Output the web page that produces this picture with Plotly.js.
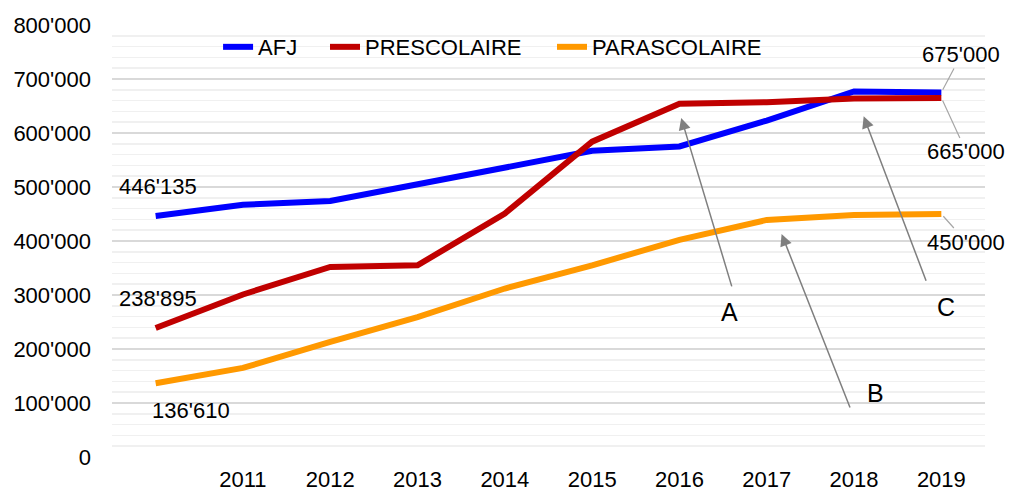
<!DOCTYPE html>
<html>
<head>
<meta charset="utf-8">
<script src="https://cdn.plot.ly/plotly-3.0.1.min.js"></script>
<style>
  body { margin: 0; background: #fff; }
  #chart { width: 1010px; height: 493px; }
</style>
</head>
<body>
<div id="chart"></div>
<script>
// years on the x axis (the first one has no tick label)
var years = [2010, 2011, 2012, 2013, 2014, 2015, 2016, 2017, 2018, 2019];
var yearLabels = ["2011", "2012", "2013", "2014", "2015", "2016", "2017", "2018", "2019"];

var afj = [446135, 467000, 474000, 505000, 538000, 567000, 575000, 623000, 677000, 675000];
var prescolaire = [238895, 301000, 352000, 355000, 451000, 584000, 654000, 657000, 664000, 665000];
var parascolaire = [136610, 165000, 213000, 259000, 312000, 355000, 402000, 439000, 448000, 450000];

var yTicks = [0, 100000, 200000, 300000, 400000, 500000, 600000, 700000, 800000];
var yTickText = ["0", "100'000", "200'000", "300'000", "400'000", "500'000", "600'000", "700'000", "800'000"];

var font = "Liberation Sans, Arial, sans-serif";
var fs = 22;
var grey = "#7f7f7f";

var trace1 = {
  x: years,
  y: afj,
  name: "AFJ",
  type: "scatter",
  mode: "lines",
  legend: "legend",
  line: { color: "#0000ff", width: 6 },
};

var trace2 = {
  x: years,
  y: prescolaire,
  name: "PRESCOLAIRE",
  type: "scatter",
  mode: "lines",
  legend: "legend2",
  line: { color: "#c00000", width: 6 },
};

var trace3 = {
  x: years,
  y: parascolaire,
  name: "PARASCOLAIRE",
  type: "scatter",
  mode: "lines",
  legend: "legend3",
  line: { color: "#ff9900", width: 6 },
};

function fmt(v) {
  var s = String(v);
  return s.slice(0, s.length - 3) + "'" + s.slice(-3);
}

var first = 0;
var last = years.length - 1;

var annotations = [
  // start values
  { x: years[first], y: afj[first], text: fmt(afj[first]), showarrow: false, yshift: 30, xshift: 2 },
  { x: years[first], y: prescolaire[first], text: fmt(prescolaire[first]), showarrow: false, yshift: 30, xshift: 2 },
  { x: years[first], y: parascolaire[first], text: fmt(parascolaire[first]), showarrow: false, yshift: -27, xshift: 35 },
  // end values with leader lines
  { x: years[last], y: afj[last], text: fmt(afj[last]), showarrow: true, arrowhead: 0,
    arrowwidth: 1.2, arrowcolor: "#a6a6a6", ax: 20, ay: -38, standoff: 3 },
  { x: years[last], y: prescolaire[last], text: fmt(prescolaire[last]), showarrow: true, arrowhead: 0,
    arrowwidth: 1.2, arrowcolor: "#a6a6a6", ax: 25, ay: 54, standoff: 3 },
  { x: years[last], y: parascolaire[last], text: fmt(parascolaire[last]), showarrow: true, arrowhead: 0,
    arrowwidth: 1.2, arrowcolor: "#a6a6a6", ax: 25, ay: 28, standoff: 3 },
  // A, B, C arrows
  { x: 2016.02, y: 628000, text: "", showarrow: true, arrowhead: 2, arrowsize: 1.6,
    arrowwidth: 1.5, arrowcolor: grey, ax: 51, ay: 170 },
  { x: 2017.17, y: 413000, text: "", showarrow: true, arrowhead: 2, arrowsize: 1.6,
    arrowwidth: 1.5, arrowcolor: grey, ax: 69, ay: 175 },
  { x: 2018.11, y: 631000, text: "", showarrow: true, arrowhead: 2, arrowsize: 1.6,
    arrowwidth: 1.5, arrowcolor: grey, ax: 63, ay: 166 },
  { x: 2016.57, y: 268500, text: "A", showarrow: false, font: { size: 25 } },
  { x: 2018.24, y: 118500, text: "B", showarrow: false, font: { size: 25 } },
  { x: 2019.05, y: 277800, text: "C", showarrow: false, font: { size: 25 } },
];
annotations.forEach(function (a) {
  a.xref = "x";
  a.yref = "y";
  a.font = { family: font, size: (a.font && a.font.size) || fs, color: "#000000" };
});

function legendAt(x) {
  return {
    orientation: "h",
    x: x,
    xanchor: "left",
    y: 0.949,
    yanchor: "middle",
    bgcolor: "rgba(0,0,0,0)",
    font: { family: font, size: fs, color: "#000000" },
  };
}

var layout = {
  width: 1010,
  height: 493,
  margin: { l: 112, r: 25, t: 25, b: 36 },
  paper_bgcolor: "#ffffff",
  plot_bgcolor: "#ffffff",
  font: { family: font, size: fs, color: "#000000" },
  showlegend: true,
  legend: legendAt(0.1215),
  legend2: legendAt(0.2440),
  legend3: legendAt(0.5040),
  xaxis: {
    range: [2009.5, 2019.5],
    tickvals: years.slice(1),
    ticktext: yearLabels,
    showgrid: false,
    zeroline: false,
    showline: false,
    ticks: "",
    ticklabelstandoff: 7,
    fixedrange: true,
  },
  yaxis: {
    range: [0, 800000],
    tickvals: yTicks,
    ticktext: yTickText,
    showgrid: true,
    gridcolor: "#d9d9d9",
    gridwidth: 1.5,
    minor: { dtick: 20000, showgrid: true, gridcolor: "#f0f0f0", gridwidth: 1.5 },
    zeroline: false,
    showline: false,
    ticks: "",
    ticklabelstandoff: 20,
    fixedrange: true,
  },
  annotations: annotations,
};

var data = [trace1, trace2, trace3];

Plotly.newPlot("chart", data, layout, { displayModeBar: false, staticPlot: true });
</script>
</body>
</html>
